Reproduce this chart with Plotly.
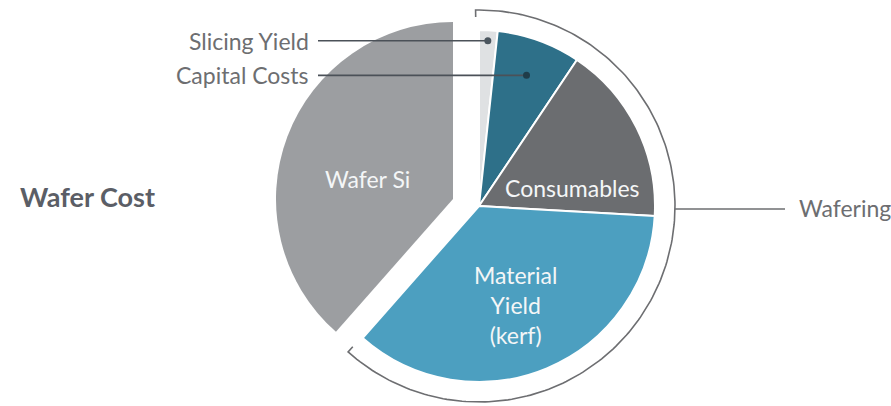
import numpy as np
import plotly.graph_objects as go

# Wafer cost breakdown (share of total, %), clockwise from 12 o'clock
labels = ["Slicing Yield", "Capital Costs", "Consumables", "Material Yield (kerf)", "Wafer Si"]
values = [1.7, 7.7, 16.5, 35.6, 38.5]
wafering = [True, True, True, True, False]
colors = ["#dfe1e3", "#2e7089", "#6b6d70", "#4c9fc0", "#9c9ea1"]

W, H = 891, 406
CLEAR = "rgba(0,0,0,0)"

# pie centres / radii in pixels
si_c, si_r = (453, 199), 177        # Wafer Si, pulled out to the upper left
wf_c, wf_r = (479, 206), 176        # wafering group


def domain(c, r):
    cx, cy = c
    return dict(x=[(cx - r) / W, (cx + r) / W], y=[1 - (cy + r) / H, 1 - (cy - r) / H])


def polar(c, r, deg):
    a = np.radians(deg)
    return c[0] + r * np.sin(a), c[1] - r * np.cos(a)


total = sum(values)
ends = np.cumsum(values) / total * 360.0
starts = ends - np.array(values) / total * 360.0
mids = (starts + ends) / 2

fig = go.Figure()

# Wafer Si group
fig.add_trace(go.Pie(
    labels=labels, values=values, sort=False, direction="clockwise", rotation=0,
    marker=dict(colors=[CLEAR if w else c for w, c in zip(wafering, colors)],
                line=dict(width=0, color="white")),
    textinfo="none", hoverinfo="skip", showlegend=False,
    domain=domain(si_c, si_r),
))
# Wafering group
fig.add_trace(go.Pie(
    labels=labels, values=values, sort=False, direction="clockwise", rotation=0,
    marker=dict(colors=[c if w else CLEAR for w, c in zip(wafering, colors)],
                line=dict(width=[2 if w else 0 for w in wafering], color="white")),
    textinfo="none", hoverinfo="skip", showlegend=False,
    domain=domain(wf_c, wf_r),
))

# bracket arc around the wafering slices
wf_end = ends[[i for i, w in enumerate(wafering) if w][-1]]
arc_r, tick = 196, 7
ang = np.linspace(-1.0, wf_end + 0.5, 200)
ax_, ay_ = polar(wf_c, arc_r, ang)
t0 = polar(wf_c, arc_r - tick, -1.0)
t1 = polar(wf_c, arc_r - tick, wf_end + 0.5)
bx = np.concatenate([[t0[0]], ax_, [t1[0]]])
by = np.concatenate([[t0[1]], ay_, [t1[1]]])
fig.add_trace(go.Scatter(x=bx, y=by, mode="lines", hoverinfo="skip", showlegend=False,
                         line=dict(color="#6d6e71", width=1.6)))

shapes = []
# Wafering connector
wy = wf_c[1] + 3
wx0 = wf_c[0] + np.sqrt(arc_r ** 2 - (wy - wf_c[1]) ** 2)
shapes.append(dict(type="line", xref="x", yref="y", x0=wx0, x1=785, y0=wy, y1=wy,
                   line=dict(color="#6d6e71", width=1.6)))

# leader lines for the two thin slices
leaders = [(0, 0.94, "#4b565f"), (1, 0.79, "#1f3c49")]
for idx, frac, dot in leaders:
    px, py = polar(wf_c, wf_r * frac, mids[idx])
    shapes.append(dict(type="line", xref="x", yref="y", x0=318, x1=px, y0=py, y1=py,
                       line=dict(color="#4b5158", width=1.6), layer="above"))
    shapes.append(dict(type="circle", xref="x", yref="y", x0=px - 3.5, x1=px + 3.5,
                       y0=py - 3.5, y1=py + 3.5, fillcolor=dot, line=dict(width=0),
                       layer="above"))
    fig.add_annotation(x=311, y=py, xref="x", yref="y", text=labels[idx], showarrow=False,
                       xanchor="right", yanchor="middle",
                       font=dict(family="Lato", size=23, color="#6d6e71"))

fig.add_annotation(x=797, y=wy - 1, xref="x", yref="y", text="Wafering", showarrow=False,
                   xanchor="left", yanchor="middle",
                   font=dict(family="Lato", size=23, color="#6d6e71"))

# in-slice labels
inside = [
    ("Wafer Si", 367, 179),
    ("Consumables", 572, 188),
    ("Material<br>Yield<br>(kerf)", 515, 305),
]
for txt, x, y in inside:
    fig.add_annotation(x=x, y=y, xref="x", yref="y", text=txt, showarrow=False,
                       xanchor="center", yanchor="middle",
                       font=dict(family="Lato", size=23, color="#f4f6f7"))

fig.add_annotation(x=157, y=196, xref="x", yref="y", text="<b>Wafer Cost</b>",
                   showarrow=False, xanchor="right", yanchor="middle",
                   font=dict(family="Lato", size=27, color="#5b5e66"))

fig.update_layout(
    width=W, height=H, margin=dict(l=0, r=0, t=0, b=0),
    paper_bgcolor="white", plot_bgcolor="white",
    xaxis=dict(range=[0, W], visible=False, fixedrange=True),
    yaxis=dict(range=[H, 0], visible=False, fixedrange=True),
    shapes=shapes,
)

fig.write_html("out.html")
